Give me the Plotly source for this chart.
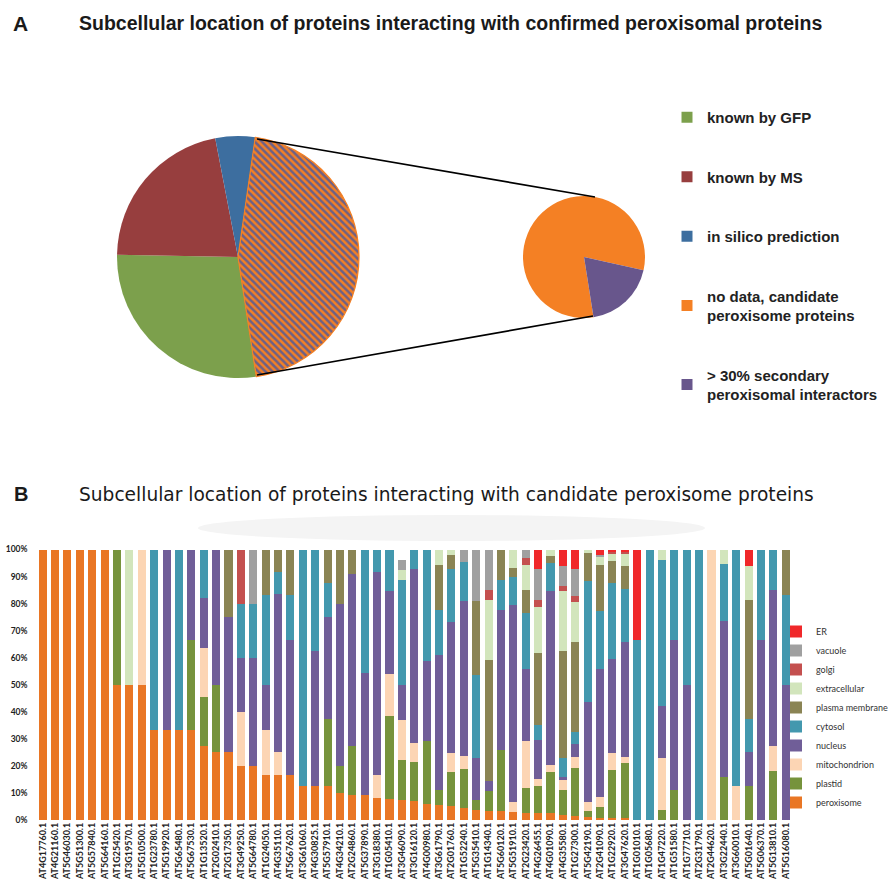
import plotly.graph_objects as go

W, H = 892, 889

# ---------------- data: panel A (pies) ----------------
pie_main_labels = ["known by GFP", "known by MS", "in silico prediction",
                   "no data, candidate<br>peroxisome proteins"]
pie_main_values = [27.7, 21.7, 5.3, 45.3]
pie_main_colors = ["#7CA04C", "#973E3E", "#3D6E9F", "#F48024"]

pie_zoom_labels = ["no data, candidate<br>peroxisome proteins",
                   "> 30% secondary<br>peroxisomal interactors"]
pie_zoom_values = [81, 19]
pie_zoom_colors = ["#F48024", "#68568C"]

legend_a_labels = ["known by GFP", "known by MS", "in silico prediction",
                   "no data, candidate<br>peroxisome proteins",
                   "> 30% secondary<br>peroxisomal interactors"]
legend_a_colors = ["#7CA04C", "#973E3E", "#3D6E9F", "#F48024", "#68568C"]

# ---------------- data: panel B (stacked bars) ----------------
genes = ["AT4G17760.1", "AT4G21160.1", "AT5G46030.1", "AT5G51300.1", "AT5G57840.1",
         "AT5G64160.1", "AT1G25420.1", "AT3G19570.1", "AT5G10500.1", "AT1G23780.1",
         "AT5G19920.1", "AT5G65480.1", "AT5G67530.1", "AT1G13520.1", "AT2G02410.1",
         "AT2G17350.1", "AT3G49250.1", "AT5G64780.1", "AT1G24050.1", "AT4G35110.1",
         "AT5G67620.1", "AT3G61060.1", "AT4G30825.1", "AT5G57910.1", "AT4G34210.1",
         "AT2G24860.1", "AT5G37890.1", "AT3G18380.1", "AT1G05410.1", "AT3G46090.1",
         "AT3G16120.1", "AT4G00980.1", "AT3G61790.1", "AT2G01760.1", "AT1G52240.1",
         "AT5G35410.1", "AT1G14340.1", "AT5G60120.1", "AT5G51910.1", "AT2G23420.1",
         "AT4G26455.1", "AT4G01090.1", "AT4G35580.1", "AT1G27300.1", "AT5G42190.1",
         "AT2G41090.1", "AT1G22920.1", "AT3G47620.1", "AT1G01010.1", "AT1G05680.1",
         "AT1G47220.1", "AT1G51580.1", "AT1G77710.1", "AT2G31790.1", "AT2G44620.1",
         "AT3G22440.1", "AT3G60010.1", "AT5G01640.1", "AT5G06370.1", "AT5G13810.1",
         "AT5G16080.1"]

peroxisome = [100, 100, 100, 100, 100, 100, 50, 50, 50, 33.3,
              33.3, 33.3, 33.3, 27.3, 25, 25, 20, 20, 16.7, 16.7,
              16.7, 12.5, 12.5, 12.5, 10, 9.1, 9.1, 8.3, 7.7, 7.4,
              7.0, 5.8, 5.4, 5.2, 4.6, 3.7, 3.5, 3.5, 3.1, 2.7,
              2.7, 2.5, 1.7, 1.5, 1.0, 0.9, 0.6, 0.6, 0, 0,
              0, 0, 0, 0, 0, 0, 0, 0, 0, 0,
              0]
plastid = [0, 0, 0, 0, 0, 0, 50, 0, 0, 0,
           0, 0, 33.3, 18.2, 25, 0, 0, 0, 0, 0,
           0, 0, 0, 25, 10, 18.2, 0, 0, 30.8, 14.8,
           14.4, 23.5, 5.7, 12.5, 14.3, 3.7, 7.4, 22.2, 0, 9.0,
           9.9, 15.4, 9.4, 17.9, 2.5, 4.0, 17.9, 20.6, 0, 0,
           3.8, 11.1, 0, 0, 0, 15.8, 0, 12.5, 0, 18.2,
           0]
mitochondrion = [0, 0, 0, 0, 0, 0, 0, 0, 50, 0,
                 0, 0, 0, 18.2, 0, 0, 20, 0, 16.7, 8.3,
                 0, 0, 0, 0, 0, 0, 0, 8.3, 15.3, 14.8,
                 7.0, 0, 0, 7.0, 4.8, 0, 0, 0, 3.7, 17.6,
                 2.7, 2.5, 3.7, 3.8, 3.3, 3.7, 6.2, 2.0, 0, 0,
                 19.2, 0, 0, 0, 100, 0, 12.5, 0, 0, 9.1,
                 0]
nucleus = [0, 0, 0, 0, 0, 0, 0, 0, 0, 0,
           66.7, 0, 33.4, 18.2, 50, 50, 20, 40, 16.6, 58.4,
           50, 0, 50, 37.5, 60, 63.6, 45.4, 75.1, 30.8, 13.0,
           64.4, 29.3, 50, 48.4, 57.2, 15.4, 3.7, 52.1, 72.5, 26.5,
           14.2, 64.2, 1.0, 4.8, 36.7, 47.2, 34.9, 42.5, 0, 0,
           19.2, 55.6, 50, 0, 0, 57.9, 0, 12.5, 66.7, 57.6,
           50]
cytosol = [0, 0, 0, 0, 0, 0, 0, 0, 0, 66.7,
           0, 66.7, 0, 18.1, 0, 0, 20, 20, 33.3, 8.3,
           16.6, 87.5, 37.5, 12.5, 0, 0, 45.5, 8.3, 15.4, 38.9,
           7.2, 41.4, 16.7, 19.7, 14.4, 30.9, 0, 11.1, 10.5, 20.7,
           5.7, 10.5, 7.0, 4.7, 44.8, 21.6, 28.1, 19.7, 66.7, 100,
           53.9, 33.3, 50, 100, 0, 21.1, 87.5, 12.5, 33.3, 15.1,
           33.3]
plasma_membrane = [0, 0, 0, 0, 0, 0, 0, 0, 0, 0,
                   0, 0, 0, 0, 0, 25, 0, 0, 16.7, 8.3,
                   16.7, 0, 0, 12.5, 20, 9.1, 0, 0, 0, 0,
                   0, 0, 16.6, 5.3, 0, 27.2, 44.7, 11.1, 3.4, 8.7,
                   26.5, 2.4, 39.8, 33.0, 10.5, 16.7, 8.0, 8.4, 0, 0,
                   0, 0, 0, 0, 0, 0, 0, 43.75, 0, 0,
                   16.7]
extracellular = [0, 0, 0, 0, 0, 0, 0, 50, 0, 0,
                 0, 0, 0, 0, 0, 0, 0, 0, 0, 0,
                 0, 0, 0, 0, 0, 0, 0, 0, 0, 3.7,
                 0, 0, 5.6, 1.9, 0, 0, 22.2, 0, 6.8, 8.9,
                 17.1, 2.5, 22.0, 14.8, 1.2, 3.2, 3.1, 5.0, 0, 0,
                 3.9, 0, 0, 0, 0, 5.2, 0, 12.5, 0, 0,
                 0]
golgi = [0, 0, 0, 0, 0, 0, 0, 0, 0, 0,
         0, 0, 0, 0, 0, 0, 20, 0, 0, 0,
         0, 0, 0, 0, 0, 0, 0, 0, 0, 0,
         0, 0, 0, 0, 0, 0, 3.7, 0, 0, 2.8,
         2.7, 0, 1.8, 2.2, 0, 0, 0.4, 0.6, 0, 0,
         0, 0, 0, 0, 0, 0, 0, 0, 0, 0,
         0]
vacuole = [0, 0, 0, 0, 0, 0, 0, 0, 0, 0,
           0, 0, 0, 0, 0, 0, 0, 20, 0, 0,
           0, 0, 0, 0, 0, 0, 0, 0, 0, 3.7,
           0, 0, 0, 0, 4.7, 19.1, 14.8, 0, 0, 3.1,
           11.3, 0, 7.4, 10.1, 0, 0.8, 0, 0, 0, 0,
           0, 0, 0, 0, 0, 0, 0, 0, 0, 0,
           0]
er = [0, 0, 0, 0, 0, 0, 0, 0, 0, 0,
      0, 0, 0, 0, 0, 0, 0, 0, 0, 0,
      0, 0, 0, 0, 0, 0, 0, 0, 0, 0,
      0, 0, 0, 0, 0, 0, 0, 0, 0, 0,
      7.2, 0, 6.2, 7.2, 0, 1.9, 0.8, 0.6, 33.3, 0,
      0, 0, 0, 0, 0, 0, 0, 6.25, 0, 0,
      0]

location_names = ["peroxisome", "plastid", "mitochondrion", "nucleus", "cytosol",
                  "plasma membrane", "extracellular", "golgi", "vacuole", "ER"]
location_values = [peroxisome, plastid, mitochondrion, nucleus, cytosol,
                   plasma_membrane, extracellular, golgi, vacuole, er]
location_colors = ["#E97624", "#76933C", "#FCD5B4", "#705E98", "#4398AE",
                   "#8A8454", "#D2E5BC", "#C4504F", "#A0A0A0", "#F0282A"]
y_ticks = [0, 10, 20, 30, 40, 50, 60, 70, 80, 90, 100]
y_ticktext = [f"{t}%" for t in y_ticks]

for arr in location_values:
    assert len(arr) == len(genes)


def X(px):
    return px / W


def Y(py):
    return 1 - py / H


SANS = "Liberation Sans, Arial"
WIDE = "DejaVu Sans, Liberation Sans"
CAL = "Lato, Carlito, Calibri, sans-serif"

fig = go.Figure()

# ---------- Panel A pies ----------
cx, cy, r = 238, 257, 121
fig.add_trace(go.Pie(
    labels=pie_main_labels, values=pie_main_values, sort=False,
    direction="clockwise", rotation=171.3, textinfo="none", hoverinfo="label+percent",
    marker=dict(colors=pie_main_colors,
                line=dict(color=["rgba(0,0,0,0)"] * 3 + ["#F48024"], width=[0, 0, 0, 1.2]),
                pattern=dict(shape=["", "", "", "\\"], fgcolor="#6B6088",
                             bgcolor="#F48024", fillmode="replace",
                             size=5, solidity=0.5)),
    domain=dict(x=[X(cx - r), X(cx + r)], y=[Y(cy + r), Y(cy - r)]),
    showlegend=False,
))
zx, zy, zr = 584, 257, 61
fig.add_trace(go.Pie(
    labels=pie_zoom_labels, values=pie_zoom_values, sort=False,
    direction="clockwise", rotation=171, textinfo="none", hoverinfo="label+percent",
    marker=dict(colors=pie_zoom_colors, line=dict(width=0)),
    domain=dict(x=[X(zx - zr), X(zx + zr)], y=[Y(zy + zr), Y(zy - zr)]),
    showlegend=False,
))

# legend entries for panel A
for i, (lab, col) in enumerate(zip(legend_a_labels, legend_a_colors)):
    fig.add_trace(go.Scatter(
        x=[None], y=[None], mode="markers", name=lab,
        marker=dict(symbol="square", size=11, color=col),
        legend="legend", legendgroup=f"a{i}", showlegend=True, hoverinfo="skip",
    ))

# ---------- Panel B stacked bars ----------
for name, vals, col in zip(location_names, location_values, location_colors):
    fig.add_trace(go.Bar(
        x=genes, y=vals, name=name, marker=dict(color=col, line=dict(width=0)),
        legend="legend2",
    ))

shapes = [
    # zoom connector lines
    dict(type="line", xref="paper", yref="paper",
         x0=X(257), y0=Y(139), x1=X(595), y1=Y(197),
         line=dict(color="black", width=1.6)),
    dict(type="line", xref="paper", yref="paper",
         x0=X(257), y0=Y(375), x1=X(593), y1=Y(316),
         line=dict(color="black", width=1.6)),
    # faint grey smudge under title B
    dict(type="circle", xref="paper", yref="paper",
         x0=X(198), x1=X(705), y0=Y(541), y1=Y(515),
         fillcolor="#F4F4F4", line=dict(width=0), layer="below"),
]

annotations = [
    dict(text="<b>A</b>", x=X(11), y=Y(23), xref="paper", yref="paper",
         xanchor="left", yanchor="middle", showarrow=False,
         font=dict(family=SANS, size=21, color="#1a1a1a")),
    dict(text="<b>Subcellular location of proteins interacting with confirmed peroxisomal proteins</b>",
         x=X(77), y=Y(23), xref="paper", yref="paper",
         xanchor="left", yanchor="middle", showarrow=False,
         font=dict(family=SANS, size=19.5, color="#1a1a1a")),
    dict(text="<b>B</b>", x=X(12), y=Y(494), xref="paper", yref="paper",
         xanchor="left", yanchor="middle", showarrow=False,
         font=dict(family=SANS, size=20, color="#1a1a1a")),
    dict(text="Subcellular location of proteins interacting with candidate peroxisome proteins",
         x=X(77), y=Y(494), xref="paper", yref="paper",
         xanchor="left", yanchor="middle", showarrow=False,
         font=dict(family=WIDE, size=18.6, color="#1a1a1a")),
]

fig.update_layout(
    width=W, height=H, autosize=False,
    margin=dict(l=0, r=0, t=0, b=0, autoexpand=False),
    paper_bgcolor="white", plot_bgcolor="white",
    barmode="stack", bargap=0.35,
    shapes=shapes, annotations=annotations,
    xaxis=dict(domain=[X(36.5), X(792)], type="category", tickangle=-90,
               showgrid=False, zeroline=False, showline=False, ticks="",
               automargin=False,
               tickfont=dict(family=CAL, size=9, color="#222222", weight="bold"),
               fixedrange=True),
    yaxis=dict(domain=[Y(820), Y(549.5)], range=[0, 100], tickvals=y_ticks,
               ticktext=y_ticktext, showgrid=False, zeroline=False, showline=False,
               ticks="", ticklabelstandoff=8, automargin=False,
               tickfont=dict(family=CAL, size=8.5, color="#222222", weight="bold"),
               fixedrange=True),
    legend=dict(x=X(667), y=Y(101), xanchor="left", yanchor="top",
                traceorder="grouped", tracegroupgap=37, bgcolor="rgba(0,0,0,0)",
                font=dict(family=SANS, size=15, color="#222222", weight="bold"),
                itemclick=False, itemdoubleclick=False),
    legend2=dict(x=X(776), y=Y(617), xanchor="left", yanchor="top",
                 traceorder="reversed", bgcolor="rgba(0,0,0,0)",
                 font=dict(family=CAL, size=9, color="#333333"),
                 itemclick=False, itemdoubleclick=False),
    hovermode="closest",
)

fig.write_html(
    "out.html",
    config={"displayModeBar": False},
    post_script="document.body.style.margin='0px';document.body.style.overflow='hidden';",
)
